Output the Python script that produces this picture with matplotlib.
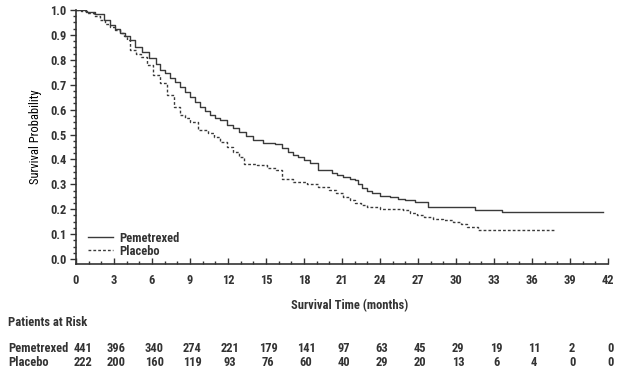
import matplotlib
matplotlib.use("Agg")
import matplotlib.pyplot as plt
from matplotlib import font_manager
from matplotlib.ticker import MultipleLocator
from matplotlib.transforms import blended_transform_factory

# Kaplan-Meier curves
pem_t = [0, 0.8, 1.5, 2.2, 2.7, 3.1, 3.5, 3.9, 4.3, 4.65, 5.2, 5.8, 6.3, 6.6, 7.0,
         7.4, 7.8, 8.2, 8.6, 9.0, 9.4, 9.8, 10.2, 10.6, 11.0, 11.4, 11.9, 12.4, 12.9, 13.4,
         14.0, 14.8, 15.7, 16.3, 16.7, 17.1, 17.5, 18.0, 18.5, 19.1, 20.2, 20.6, 21.1, 21.6, 22.0,
         22.3, 22.6, 23.0, 23.4, 24.0, 24.8, 25.4, 26.0, 26.8, 27.8, 31.5, 33.6, 41.6]
pem_s = [1.0, .99, .985, .96, .94, .925, .908, .895, .88, .853, .83, .807, .785, .76, .745,
         .727, .71, .69, .67, .65, .63, .61, .595, .578, .565, .558, .54, .526, .51, .495,
         .478, .465, .462, .445, .43, .418, .408, .398, .385, .357, .345, .338, .33, .322, .317,
         .30, .285, .275, .265, .253, .249, .24, .237, .229, .209, .197, .189, .189]

pla_t = [0, 0.4, 0.9, 1.4, 1.9, 2.3, 2.7, 3.1, 3.5, 3.8, 4.0, 4.3, 4.7, 5.1, 5.6,
         6.1, 6.6, 7.2, 7.7, 8.2, 8.6, 9.0, 9.6, 10.4, 10.9, 11.4, 11.9, 12.4, 12.9, 13.3,
         14.3, 15.1, 15.8, 16.3, 17.1, 18.2, 19.1, 20.0, 20.5, 21.1, 21.6, 22.0, 22.5, 23.0, 24.0,
         25.8, 26.4, 26.9, 27.5, 28.2, 29.0, 29.8, 30.4, 30.9, 31.7, 37.7]
pla_s = [1.0, .995, .988, .975, .96, .945, .932, .92, .908, .895, .88, .84, .825, .81, .78,
         .74, .707, .66, .61, .578, .565, .55, .518, .506, .49, .47, .45, .43, .41, .38,
         .378, .365, .357, .32, .31, .30, .29, .277, .265, .25, .237, .225, .215, .209, .20,
         .197, .185, .177, .168, .16, .155, .149, .14, .13, .116, .116]

risk_months = [0, 3, 6, 9, 12, 15, 18, 21, 24, 27, 30, 33, 36, 39, 42]
risk_pem = [441, 396, 340, 274, 221, 179, 141, 97, 63, 45, 29, 19, 11, 2, 0]
risk_pla = [222, 200, 160, 119, 93, 76, 60, 40, 29, 20, 13, 6, 4, 0, 0]

ink = "#333333"

# pick a narrow face if one is there
fam = 'Liberation Sans'
for cand in ['Liberation Sans Narrow', 'DejaVu Sans Condensed', 'Roboto Condensed', 'Open Sans Condensed']:
    try:
        font_manager.findfont(font_manager.FontProperties(family=cand), fallback_to_default=False)
        fam = cand
        break
    except Exception:
        pass

plt.rcParams['font.family'] = [fam, 'DejaVu Sans']
plt.rcParams['font.weight'] = 'bold'
plt.rcParams['text.color'] = ink
plt.rcParams['xtick.color'] = ink
plt.rcParams['ytick.color'] = ink
fs = 9

fig = plt.figure(figsize=(6.24, 3.71), dpi=100)
ax = fig.add_axes([76 / 624, 1 - 264 / 371, 532 / 624, 254 / 371])

ax.plot(pem_t, pem_s, drawstyle='steps-post', color="#3a3a3a", lw=1.0, label='Pemetrexed')
ax.plot(pla_t, pla_s, drawstyle='steps-post', color="#3a3a3a", lw=1.0, ls=(0, (2, 1.5)), label='Placebo')

ax.set_xlim(0, 42)
ax.set_ylim(-0.02, 1.0)
ax.xaxis.set_major_locator(MultipleLocator(3))
ax.xaxis.set_minor_locator(MultipleLocator(1))
ax.yaxis.set_minor_locator(MultipleLocator(0.025))
ax.set_yticks([i / 10 for i in range(11)])
ax.set_yticklabels([f"{i / 10:.1f}" for i in range(11)])
ax.tick_params(which='major', length=4, width=1, labelsize=fs)
ax.tick_params(which='minor', length=2.5, width=1)
ax.tick_params(axis='y', pad=3)
ax.tick_params(axis='x', which='both', direction='in', pad=7)
for s in ['top', 'right']:
    ax.spines[s].set_visible(False)
for s in ['left', 'bottom']:
    ax.spines[s].set_color(ink)
    ax.spines[s].set_linewidth(1.2)

ax.set_ylabel('Survival Probability', fontsize=fs, labelpad=6)
fig.text(350 / 624, 1 - 306 / 371, 'Survival Time (months)', ha='center', va='center', fontsize=fs)

ax.legend(loc='lower left', bbox_to_anchor=(0.01, 0.0), frameon=False, fontsize=fs,
          handlelength=2.0, handletextpad=0.5, labelspacing=0.0, borderpad=0)

# patients at risk table
fig.text(8 / 624, 1 - 323 / 371, 'Patients at Risk', ha='left', va='center', fontsize=fs)
fig.text(8 / 624, 1 - 349 / 371, 'Pemetrexed', ha='left', va='center', fontsize=fs)
fig.text(8 / 624, 1 - 362 / 371, 'Placebo', ha='left', va='center', fontsize=fs)
trans = blended_transform_factory(ax.transData, fig.transFigure)
for i, m in enumerate(risk_months):
    dx = 5 if i == 0 else 1.5
    ax.annotate(str(risk_pem[i]), xy=(m, 1 - 349 / 371), xycoords=trans, xytext=(dx, 0),
                textcoords='offset points', ha='center', va='center', fontsize=fs, annotation_clip=False)
    ax.annotate(str(risk_pla[i]), xy=(m, 1 - 362 / 371), xycoords=trans, xytext=(dx, 0),
                textcoords='offset points', ha='center', va='center', fontsize=fs, annotation_clip=False)

plt.savefig('out.png', dpi=100)
